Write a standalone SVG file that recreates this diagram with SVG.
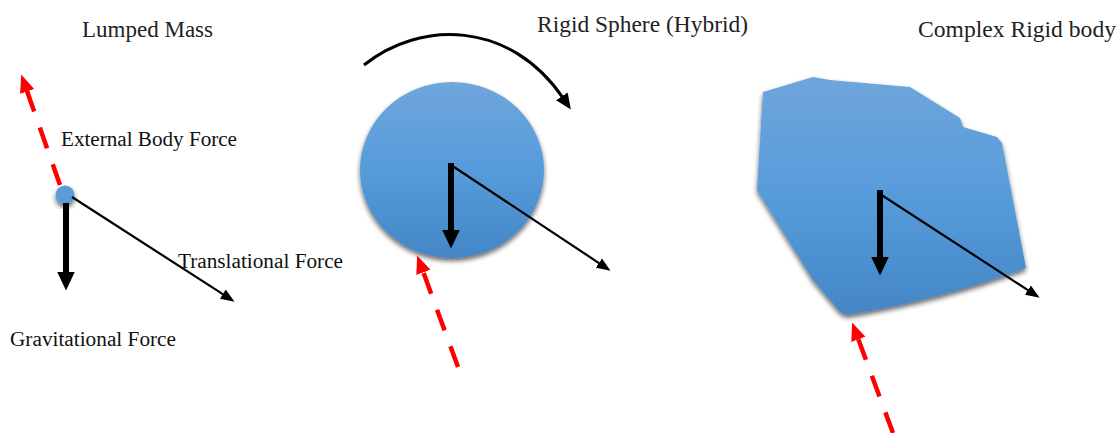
<svg xmlns="http://www.w3.org/2000/svg" width="1120" height="433" viewBox="0 0 1120 433">
<style>
.title{font-family:"Liberation Serif","Times New Roman",serif;font-size:24px;fill:#222}
.lbl{font-family:"Liberation Serif","Times New Roman",serif;font-size:20px;fill:#111}
.grav{stroke:#000;stroke-width:6;fill:none}
.trans{stroke:#000;stroke-width:2.2;fill:none}
.ext{stroke:#f00;stroke-width:4.5;fill:none;stroke-dasharray:22 17}
.moment{stroke:#000;stroke-width:3;fill:none}
.body{fill:url(#blue);filter:url(#sh)}
</style>
<defs>
<linearGradient id="blue" x1="0" y1="0" x2="0" y2="1">
<stop offset="0" stop-color="#6fa6db"/>
<stop offset="0.5" stop-color="#579bdb"/>
<stop offset="1" stop-color="#4386c6"/>
</linearGradient>
<filter id="sh" x="-20%" y="-20%" width="140%" height="140%">
<feGaussianBlur in="SourceAlpha" stdDeviation="2.5"/>
<feOffset dx="0" dy="3" result="b"/>
<feComponentTransfer><feFuncA type="linear" slope="0.6"/></feComponentTransfer>
<feMerge><feMergeNode/><feMergeNode in="SourceGraphic"/></feMerge>
</filter>
<marker id="hBig" viewBox="0 0 19 18" refX="0.5" refY="9" markerWidth="19" markerHeight="18" orient="auto" markerUnits="userSpaceOnUse">
<path d="M0,0 L19,9 L0,18 z" fill="#000"/>
</marker>
<marker id="hThin" viewBox="0 0 14 11" refX="0.5" refY="5.5" markerWidth="14" markerHeight="11" orient="auto" markerUnits="userSpaceOnUse">
<path d="M0,0 L14,5.5 L0,11 z" fill="#000"/>
</marker>
<marker id="hRed" viewBox="0 0 18 15" refX="0.5" refY="7.5" markerWidth="18" markerHeight="15" orient="auto" markerUnits="userSpaceOnUse">
<path d="M0,0 L18,7.5 L0,15 z" fill="#f00"/>
</marker>
<marker id="hMom" viewBox="0 0 16 14" refX="2" refY="7" markerWidth="16" markerHeight="14" orient="auto" markerUnits="userSpaceOnUse">
<path d="M0,0 L16,7 L0,14 z" fill="#000"/>
</marker>
</defs>

<g id="titles">
<text class="title" x="82" y="37" textLength="131" lengthAdjust="spacingAndGlyphs">Lumped Mass</text>
<text class="title" x="537" y="32" textLength="211" lengthAdjust="spacingAndGlyphs">Rigid Sphere (Hybrid)</text>
<text class="title" x="918" y="37" textLength="198" lengthAdjust="spacingAndGlyphs">Complex Rigid body</text>
</g>

<g id="labels">
<text class="lbl" x="61" y="146" textLength="176" lengthAdjust="spacingAndGlyphs">External Body Force</text>
<text class="lbl" x="178" y="268" textLength="165" lengthAdjust="spacingAndGlyphs">Translational Force</text>
<text class="lbl" x="10" y="346" textLength="166" lengthAdjust="spacingAndGlyphs">Gravitational Force</text>
</g>

<g id="sphere">
<ellipse class="body" cx="452" cy="170" rx="92" ry="88"/>
</g>

<g id="complex-body">
<path class="body" d="M763,92 L813,77 L830,80 L910,87 L960,118 L963,127 L997,137 L1002,143 L1026,268 Q940,300 847,315 L840,312 L813,280 L757,190 Z"/>
</g>

<g id="lumped-mass">
<circle cx="65" cy="195" r="9.5" fill="#5b9bd8" filter="url(#sh)"/>
</g>

<g id="connectors">
<!-- Lumped mass -->
<line class="ext" x1="60" y1="185" x2="27" y2="91" marker-end="url(#hRed)"/>
<line class="grav" x1="66" y1="203" x2="66" y2="272" marker-end="url(#hBig)"/>
<line class="trans" x1="72" y1="197" x2="223.2" y2="294.4" marker-end="url(#hThin)"/>
<!-- Sphere -->
<path class="moment" d="M364,65 C420,20 510,20 563,98" marker-end="url(#hMom)"/>
<line class="grav" x1="451" y1="163" x2="451" y2="230" marker-end="url(#hBig)"/>
<line class="trans" x1="451" y1="165" x2="599.3" y2="263.3" marker-end="url(#hThin)"/>
<line class="ext" x1="458" y1="367" x2="423.2" y2="271.9" marker-end="url(#hRed)"/>
<!-- Complex body -->
<line class="grav" x1="880" y1="190" x2="880" y2="257" marker-end="url(#hBig)"/>
<line class="trans" x1="880" y1="194" x2="1028.3" y2="290.4" marker-end="url(#hThin)"/>
<line class="ext" x1="893" y1="433" x2="858.2" y2="338.9" marker-end="url(#hRed)"/>
</g>
</svg>
